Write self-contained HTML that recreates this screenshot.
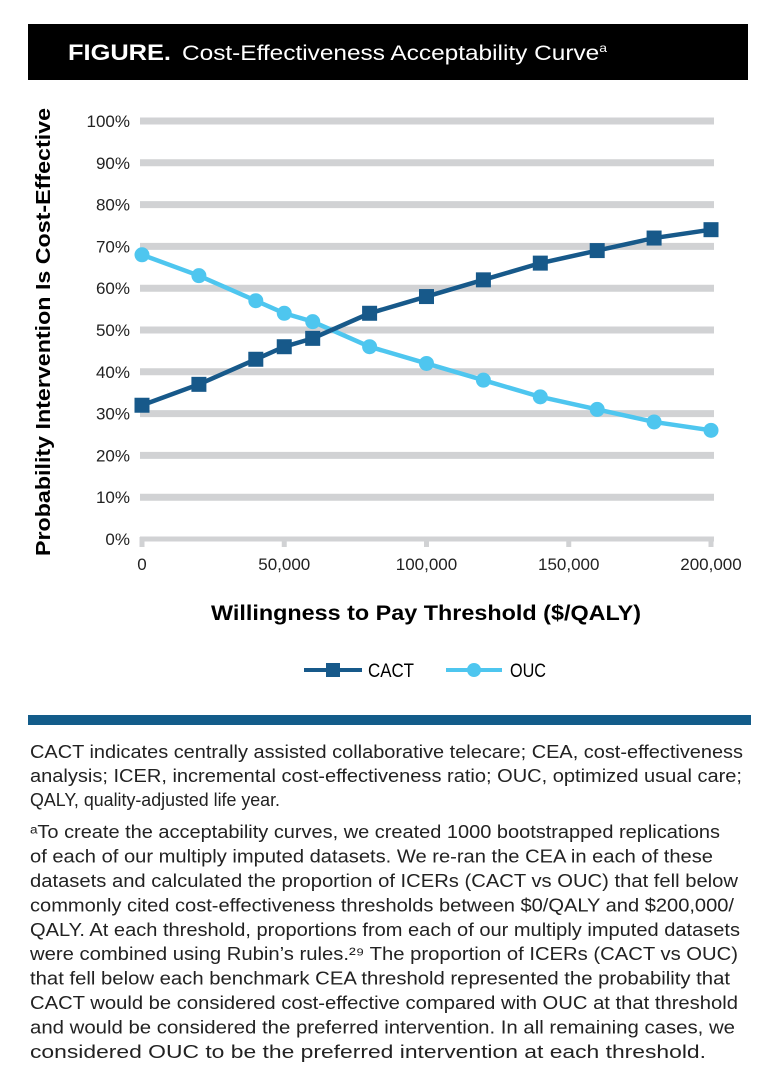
<!DOCTYPE html>
<html><head><meta charset="utf-8"><style>
body{margin:0;background:#fff;width:772px;height:1088px;overflow:hidden}
svg{display:block}
text{font-family:"Liberation Sans Narrow","Liberation Sans",sans-serif}
</style></head><body>
<svg id="s" width="772" height="1088">
<rect x="28" y="24" width="720" height="56" fill="#000"/>
<text x="68" y="60" fill="#fff" font-size="22" font-weight="bold" textLength="103" lengthAdjust="spacingAndGlyphs">FIGURE.</text>
<text x="182" y="60" fill="#fff" font-size="21" textLength="425" lengthAdjust="spacingAndGlyphs">Cost-Effectiveness Acceptability Curve<tspan font-size="12" dy="-8">a</tspan></text>
<g id="grid"></g>
<g id="plot"></g>
<text transform="translate(50,332) rotate(-90)" text-anchor="middle" font-size="20" font-weight="bold" textLength="448" lengthAdjust="spacingAndGlyphs">Probability Intervention Is Cost-Effective</text>
<text x="426" y="620" text-anchor="middle" font-size="21" font-weight="bold" textLength="430" lengthAdjust="spacingAndGlyphs">Willingness to Pay Threshold ($/QALY)</text>
<g>
<line x1="304" y1="670" x2="362" y2="670" stroke="#17598a" stroke-width="4"/>
<rect x="326" y="663" width="14" height="14" fill="#17598a"/>
<text x="368" y="677" font-size="19" textLength="46" lengthAdjust="spacingAndGlyphs">CACT</text>
</g>
<g>
<line x1="446" y1="670" x2="502" y2="670" stroke="#4ec6ef" stroke-width="4"/>
<circle cx="474" cy="670" r="7" fill="#4ec6ef"/>
<text x="510" y="677" font-size="19" textLength="36" lengthAdjust="spacingAndGlyphs">OUC</text>
</g>
<rect x="28" y="715" width="723" height="10" fill="#135c8a"/>
<g id="notes" font-size="18" fill="#222"></g>
</svg>
<script>
const xValues=[0,20000,40000,50000,60000,80000,100000,120000,140000,160000,180000,200000];
const cactValues=[32,37,43,46,48,54,58,62,66,69,72,74];
const oucValues=[68,63,57,54,52,46,42,38,34,31,28,26];
const yTicks=[0,10,20,30,40,50,60,70,80,90,100];
const xTicks=[0,50000,100000,150000,200000];
const xTickLabels=["0","50,000","100,000","150,000","200,000"];
const NS="http://www.w3.org/2000/svg";
const X=v=>142+v/200000*569;
const Y=v=>539-v*4.18;
function mk(tag,attrs,parent){const e=document.createElementNS(NS,tag);for(const k in attrs)e.setAttribute(k,attrs[k]);parent.appendChild(e);return e;}
const grid=document.getElementById('grid'),plot=document.getElementById('plot');
yTicks.forEach(t=>{
  const l=mk('line',{x1:140,x2:714,y1:Y(t),y2:Y(t),stroke:'#d1d2d4','stroke-width':t===0?5:7},grid);
  
  
  const tx=mk('text',{x:130,y:Y(t)+6,'text-anchor':'end','font-size':17,fill:'#222'},grid);
  tx.textContent=t+'%';
  
  
});
xTicks.forEach((t,i)=>{
  const l=mk('line',{x1:X(t),x2:X(t),y1:537,y2:547,stroke:'#d1d2d4','stroke-width':5},grid);
  
  
  const tx=mk('text',{x:X(t),y:570,'text-anchor':'middle','font-size':17,fill:'#222'},grid);
  tx.textContent=xTickLabels[i];
  
  
});
function series(vals,color,sq,name){
  const p=mk('polyline',{points:vals.map((v,i)=>X(xValues[i])+','+Y(v)).join(' '),fill:'none',stroke:color,'stroke-width':4.5},plot);
  
  
  vals.forEach((v,i)=>{
    const m=sq?mk('rect',{x:X(xValues[i])-7.5,y:Y(v)-7.5,width:15,height:15,fill:color},plot):mk('circle',{cx:X(xValues[i]),cy:Y(v),r:7.5,fill:color},plot);
    
    
  });
}
series(oucValues,'#4ec6ef',false,'ouc');
series(cactValues,'#17598a',true,'cact');
const lines=[
["CACT indicates centrally assisted collaborative telecare; CEA, cost-effectiveness",758,713],
["analysis; ICER, incremental cost-effectiveness ratio; OUC, optimized usual care;",782,712],
["QALY, quality-adjusted life year.",806,250],
["\u1D43To create the acceptability curves, we created 1000 bootstrapped replications",838,690],
["of each of our multiply imputed datasets. We re-ran the CEA in each of these",862.4,683],
["datasets and calculated the proportion of ICERs (CACT vs OUC) that fell below",886.9,708],
["commonly cited cost-effectiveness thresholds between $0/QALY and $200,000/",911.3,704],
["QALY. At each threshold, proportions from each of our multiply imputed datasets",935.8,710],
["were combined using Rubin\u2019s rules.\u00B2\u2079 The proportion of ICERs (CACT vs OUC)",960.2,708],
["that fell below each benchmark CEA threshold represented the probability that",984.7,700],
["CACT would be considered cost-effective compared with OUC at that threshold",1009.1,708],
["and would be considered the preferred intervention. In all remaining cases, we",1033.6,705],
["considered OUC to be the preferred intervention at each threshold.",1058,676]];
const notes=document.getElementById('notes');
lines.forEach(([t,y,w])=>{
  const e=mk('text',{x:30,y:y,textLength:w,lengthAdjust:'spacingAndGlyphs'},notes);
  e.textContent=t;
  
  
});
</script>
</body></html>
